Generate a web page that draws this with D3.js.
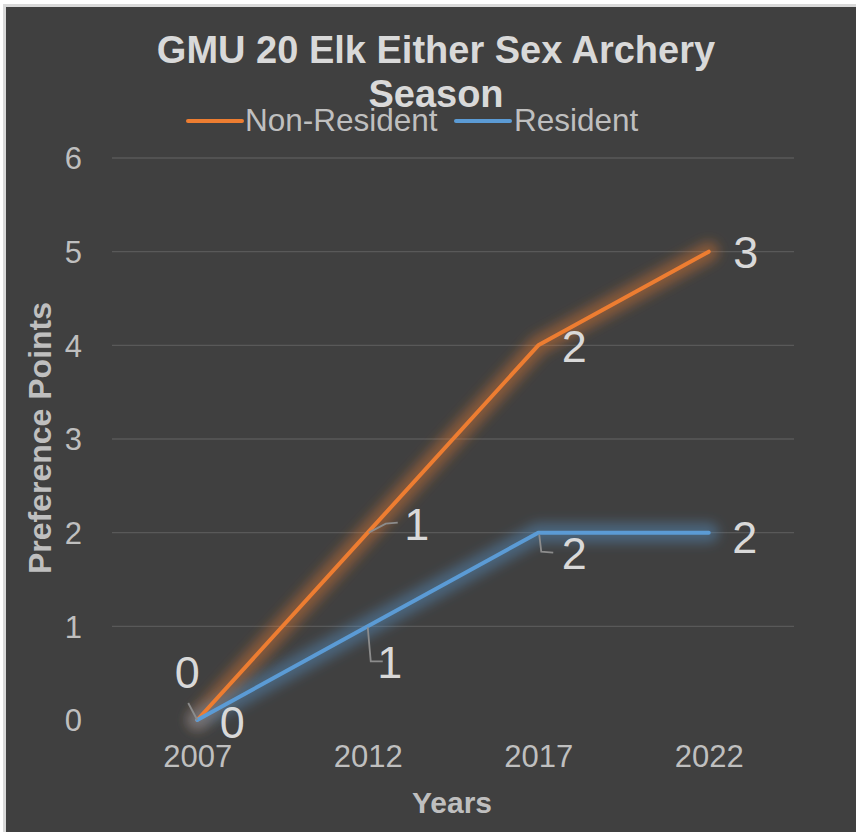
<!DOCTYPE html>
<html>
<head>
<meta charset="utf-8">
<script src="https://cdn.jsdelivr.net/npm/d3@7"></script>
<style>
  html, body { margin: 0; padding: 0; background: #ffffff; }
  svg { display: block; }
  text { font-family: "Liberation Sans", Arial, sans-serif; }
</style>
</head>
<body>
<svg id="chart" width="856" height="832"></svg>
<script>
// ---- data ----
const categories = ["2007", "2012", "2017", "2022"];
const nonResident = [0, 2, 4, 5];
const resident = [0, 1, 2, 2];
const nonResidentLabels = ["0", "1", "2", "3"];
const residentLabels = ["0", "1", "2", "2"];
const yTicks = [0, 1, 2, 3, 4, 5, 6];
const seriesNames = ["Non-Resident", "Resident"];
const titleLines = ["GMU 20 Elk Either Sex Archery", "Season"];
const xTitle = "Years";
const yTitle = "Preference Points";

// ---- styles / layout ----
const W = 856, H = 832;
const colors = { "Non-Resident": "#ED7D31", "Resident": "#5B9BD5" };
const textColor = "#d9d9d9";
const tickColor = "#bfbfbf";
const gridColor = "#595959";
const bg = "#404040";
const plot = { left: 112, right: 794, top: 158, bottom: 720 };

const svg = d3.select("#chart");

// glow filter
const defs = svg.append("defs");
const f = defs.append("filter").attr("id", "glow")
  .attr("x", "-20%").attr("y", "-20%").attr("width", "140%").attr("height", "140%");
f.append("feGaussianBlur").attr("stdDeviation", 6);

// background + border
svg.append("rect").attr("x", 3).attr("y", 4).attr("width", W - 3).attr("height", H - 4).attr("fill", "#d9d9d9");
svg.append("rect").attr("x", 6).attr("y", 7).attr("width", W - 6).attr("height", H - 7).attr("fill", bg);

// scales
const x = d3.scalePoint().domain(categories).range([plot.left, plot.right]).padding(0.5);
const y = d3.scaleLinear().domain([0, 6]).range([plot.bottom, plot.top]);

// gridlines
svg.append("g").selectAll("line").data(yTicks.filter(d => d > 0)).join("line")
  .attr("x1", plot.left).attr("x2", plot.right)
  .attr("y1", d => y(d)).attr("y2", d => y(d))
  .attr("stroke", gridColor).attr("stroke-width", 1.3);

// y axis
const yAxis = d3.axisLeft(y).tickValues(yTicks).tickSize(0).tickPadding(0).tickFormat(d3.format("d"));
const gy = svg.append("g").attr("transform", `translate(${plot.left - 30},0)`).call(yAxis);
gy.select(".domain").remove();
gy.selectAll("text").attr("fill", tickColor).style("font-size", "31px")
  .attr("dy", "0.35em").attr("x", 0);

// x axis
const xAxis = d3.axisBottom(x).tickSize(0).tickPadding(0);
const gx = svg.append("g").attr("transform", `translate(0,${plot.bottom + 25})`).call(xAxis);
gx.select(".domain").remove();
gx.selectAll("text").attr("fill", tickColor).style("font-size", "31px").attr("dy", "0.71em");

// axis titles
svg.append("text").attr("x", 452).attr("y", 813).attr("text-anchor", "middle")
  .attr("fill", tickColor).style("font-size", "30px").style("font-weight", "bold").text(xTitle);
svg.append("text").attr("transform", "translate(51,438) rotate(-90)").attr("text-anchor", "middle")
  .attr("fill", tickColor).style("font-size", "32px").style("font-weight", "bold").text(yTitle);

// title
svg.append("g").selectAll("text").data(titleLines).join("text")
  .attr("x", 436).attr("y", (d, i) => 63 + i * 44).attr("text-anchor", "middle")
  .attr("fill", textColor).style("font-size", "38px").style("font-weight", "bold").text(d => d);

// legend
const legendItems = [
  { name: seriesNames[0], lx: 188, tx: 245 },
  { name: seriesNames[1], lx: 456, tx: 514 }
];
const lg = svg.append("g");
legendItems.forEach(it => {
  lg.append("line").attr("x1", it.lx).attr("x2", it.lx + 54).attr("y1", 121).attr("y2", 121)
    .attr("stroke", colors[it.name]).attr("stroke-width", 4).attr("stroke-linecap", "round");
  lg.append("text").attr("x", it.tx).attr("y", 131).attr("fill", tickColor)
    .style("font-size", "31.5px").text(it.name);
});

// lines
const series = [
  { name: "Non-Resident", values: nonResident, labels: nonResidentLabels },
  { name: "Resident", values: resident, labels: residentLabels }
];
const line = d3.line().x((d, i) => x(categories[i])).y(d => y(d));
const lines = svg.append("g");
series.forEach(s => {
  lines.append("path").attr("d", line(s.values)).attr("fill", "none")
    .attr("stroke", colors[s.name]).attr("stroke-width", 20).attr("stroke-opacity", 0.4)
    .attr("stroke-linejoin", "round").attr("stroke-linecap", "round").attr("filter", "url(#glow)");
});
series.forEach(s => {
  lines.append("path").attr("d", line(s.values)).attr("fill", "none")
    .attr("stroke", colors[s.name]).attr("stroke-width", 4)
    .attr("stroke-linejoin", "round").attr("stroke-linecap", "round");
});

// data label offsets (dx, dy of label center) and leader lines (relative to point)
const labelLayout = {
  "Non-Resident": [
    { dx: -10, dy: -48, leader: [[0, 0], [-9, -17]] },
    { dx: 49, dy: -9, leader: [[1, 0], [18, -9], [30, -10]] },
    { dx: 36, dy: 1, leader: null },
    { dx: 37, dy: 0, leader: null }
  ],
  "Resident": [
    { dx: 35, dy: 2, leader: null },
    { dx: 22, dy: 36, leader: [[0, 1], [3, 35], [15, 35]] },
    { dx: 36, dy: 20, leader: [[1, 2], [3, 19], [15, 20]] },
    { dx: 36, dy: 4, leader: null }
  ]
};
const labelsG = svg.append("g");
series.forEach(s => {
  s.values.forEach((v, i) => {
    const px = x(categories[i]), py = y(v);
    const L = labelLayout[s.name][i];
    if (L.leader) {
      labelsG.append("path")
        .attr("d", d3.line()(L.leader.map(p => [px + p[0], py + p[1]])))
        .attr("fill", "none").attr("stroke", "#8c8c8c").attr("stroke-width", 1.8);
    }
    labelsG.append("text").attr("x", px + L.dx).attr("y", py + L.dy + 16)
      .attr("text-anchor", "middle").attr("fill", textColor)
      .style("font-size", "45px").text(s.labels[i]);
  });
});
</script>
</body>
</html>
